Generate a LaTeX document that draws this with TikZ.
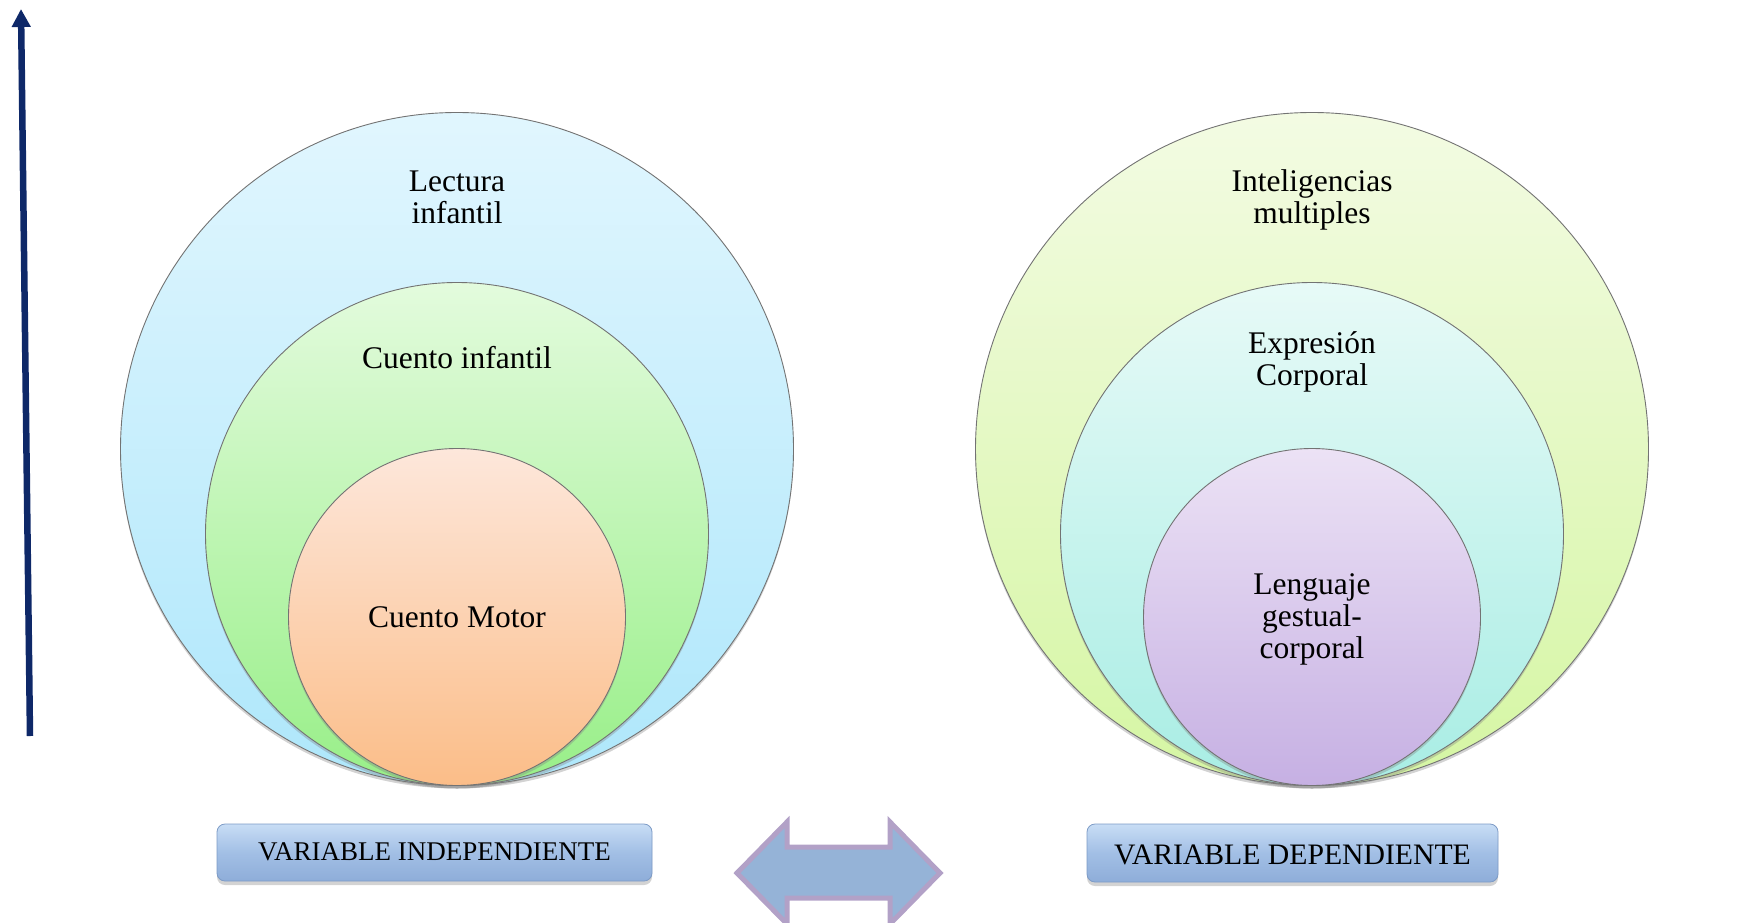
\documentclass[tikz,border=0pt]{standalone}
\usepackage{fontspec}
\setmainfont{Liberation Serif}
\usetikzlibrary{arrows.meta,shadows}
\definecolor{navy}{HTML}{0E2868}
\definecolor{cyanT}{HTML}{E1F6FE}
\definecolor{cyanB}{HTML}{AEE7FB}
\definecolor{greenT}{HTML}{E3FBDD}
\definecolor{greenB}{HTML}{98EF88}
\definecolor{peachT}{HTML}{FDE7DB}
\definecolor{peachB}{HTML}{FBBD88}
\definecolor{limeT}{HTML}{F3FBE3}
\definecolor{limeB}{HTML}{D5F6A3}
\definecolor{aquaT}{HTML}{E7FAF7}
\definecolor{aquaB}{HTML}{A8EDE4}
\definecolor{lilaT}{HTML}{ECE2F5}
\definecolor{lilaB}{HTML}{C6B0E3}
\definecolor{boxT}{HTML}{C8DDF5}
\definecolor{boxM}{HTML}{A2BFE5}
\definecolor{boxB}{HTML}{8EADD9}
\definecolor{boxD}{HTML}{7D9BC6}
\definecolor{arrF}{HTML}{95B3D7}
\definecolor{arrD}{HTML}{B2A1C7}
\tikzset{
  ring/.style={circle, draw=black!55, line width=0.9pt, inner sep=0pt,
    drop shadow={opacity=0.35, shadow xshift=0pt, shadow yshift=-3pt}},
  lbl/.style={font=\fontsize{31.5}{32}\selectfont, align=center, inner sep=0pt, anchor=base},
  varbox/.style={rounded corners=8pt, draw=boxD, line width=0.8pt,
    top color=boxT, bottom color=boxB, middle color=boxM,
    drop shadow={opacity=0.35, shadow xshift=0pt, shadow yshift=-4pt}},
}
\begin{document}
\begin{tikzpicture}[x=1pt,y=-1pt]
\useasboundingbox (0,0) rectangle (1742,923);
\clip (0,0) rectangle (1742,923);
% vertical arrow
\coordinate (vb) at (30,736);
\coordinate (vt) at (21,9);
\draw[navy, line width=6.5pt, -{Triangle[width=18pt,length=18pt]}] (vb) -- (vt);
% left circles
\node[ring, minimum size=673pt, top color=cyanT, bottom color=cyanB] (L1) at (457,449) {};
\node[ring, minimum size=503pt, top color=greenT, bottom color=greenB] (L2) at (457,534) {};
\node[ring, minimum size=337pt, top color=peachT, bottom color=peachB] (L3) at (457,617) {};
\node[lbl] (tL1) at (457,223) {Lectura\\infantil};
\node[lbl] (tL2) at (457,368) {Cuento infantil};
\node[lbl] (tL3) at (457,627) {Cuento Motor};
% right circles
\node[ring, minimum size=673pt, top color=limeT, bottom color=limeB] (R1) at (1312,449) {};
\node[ring, minimum size=503pt, top color=aquaT, bottom color=aquaB] (R2) at (1312,534) {};
\node[ring, minimum size=337pt, top color=lilaT, bottom color=lilaB] (R3) at (1312,617) {};
\node[lbl] (tR1) at (1312,223) {Inteligencias\\multiples};
\node[lbl] (tR2) at (1312,385) {Expresión\\Corporal};
\node[lbl] (tR3) at (1312,658) {Lenguaje\\gestual-\\corporal};
% boxes
\draw[varbox] (217,824) rectangle (652,881);
\node[font=\fontsize{27}{28}\selectfont, anchor=base, inner sep=0pt] (vi) at (434.5,860) {VARIABLE INDEPENDIENTE};
\draw[varbox] (1087,824) rectangle (1498,882);
\node[font=\fontsize{29.7}{31}\selectfont, anchor=base, inner sep=0pt] (vd) at (1292.5,864) {VARIABLE DEPENDIENTE};
% double arrow
\draw[fill=arrF, draw=arrD, line width=5pt, line join=miter]
  (737,873) -- (787,822) -- (787,847) -- (890,847) -- (890,822) -- (940,873)
  -- (890,924) -- (890,898) -- (787,898) -- (787,924) -- cycle;
\end{tikzpicture}
\end{document}
